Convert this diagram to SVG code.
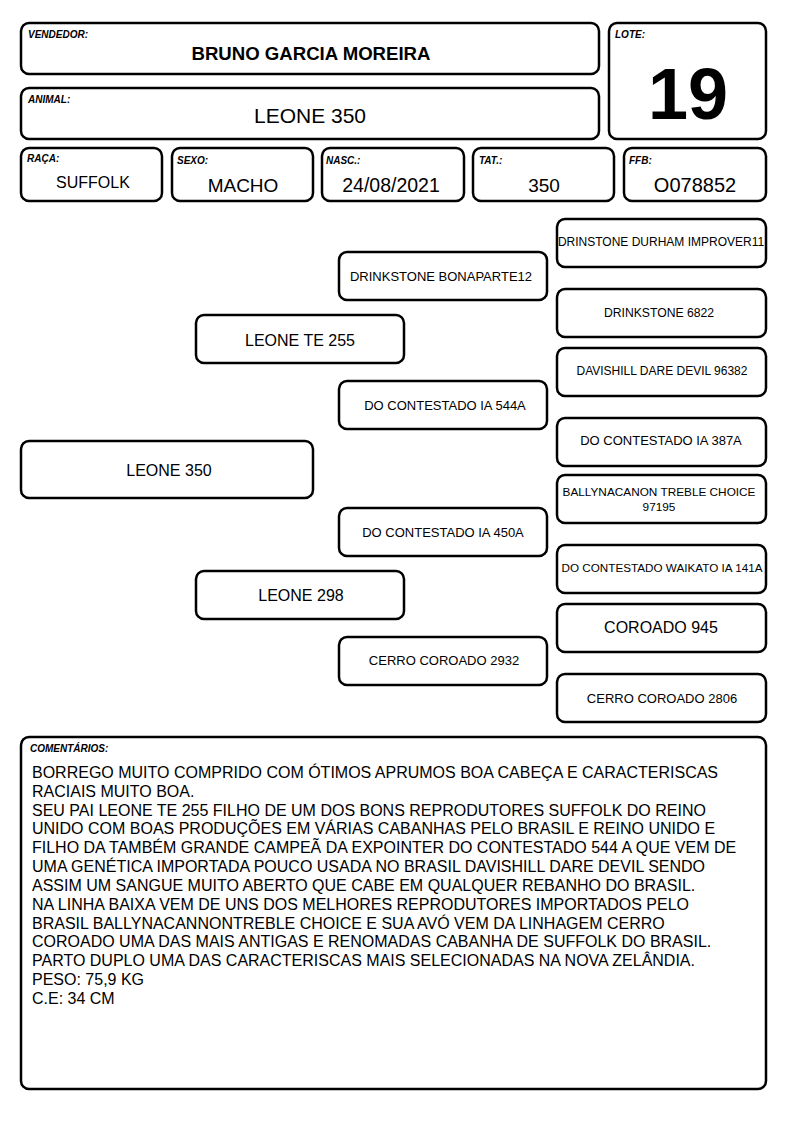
<svg xmlns="http://www.w3.org/2000/svg" width="794" height="1123" viewBox="0 0 794 1123">
<style>
.b{fill:#fff;stroke:#000;stroke-width:2.5}
text{font-family:"Liberation Sans",Arial,sans-serif;fill:#000}
.l{font-size:10px;font-weight:bold;font-style:italic}
.c{text-anchor:middle}
.v{font-size:19px}
.p1{font-size:16px}
.p2{font-size:12px}
.p3{font-size:13px}
.cm{font-size:16px}
</style>
<rect width="794" height="1123" fill="#fff"/>
<g id="vendedor"><rect class="b" x="21" y="23" width="578" height="51" rx="8"/><text class="l" x="28" y="38">VENDEDOR:</text><text class="c" x="311" y="60" font-size="18.6" font-weight="bold">BRUNO GARCIA MOREIRA</text></g>
<g id="animal"><rect class="b" x="21" y="88" width="578" height="51" rx="8"/><text class="l" x="28" y="103">ANIMAL:</text><text class="c" x="310" y="123" font-size="21">LEONE 350</text></g>
<g id="lote"><rect class="b" x="609" y="23" width="157" height="116" rx="8"/><text class="l" x="615" y="38">LOTE:</text><text class="c" x="688" y="119" font-size="72" font-weight="bold">19</text></g>
<g id="raca"><rect class="b" x="21" y="148" width="141" height="53" rx="8"/><text class="l" x="27" y="162">RAÇA:</text><text class="c p1" x="93" y="188">SUFFOLK</text></g>
<g id="sexo"><rect class="b" x="172" y="148" width="141" height="53" rx="8"/><text class="l" x="177" y="164">SEXO:</text><text class="c v" x="243" y="192">MACHO</text></g>
<g id="nasc"><rect class="b" x="322" y="148" width="142" height="53" rx="8"/><text class="l" x="326" y="164">NASC.:</text><text class="c" x="391" y="192" font-size="19.5">24/08/2021</text></g>
<g id="tat"><rect class="b" x="473" y="148" width="141" height="53" rx="8"/><text class="l" x="479" y="164">TAT.:</text><text class="c v" x="544" y="192">350</text></g>
<g id="ffb"><rect class="b" x="624" y="148" width="142" height="53" rx="8"/><text class="l" x="629" y="164">FFB:</text><text class="c" x="695" y="192" font-size="20">O078852</text></g>

<g id="connectors"></g>

<g id="n-leone350"><rect class="b" x="21" y="441" width="292" height="57" rx="8"/><text class="c p1" x="169" y="476">LEONE 350</text></g>
<g id="n-leonete255"><rect class="b" x="196" y="315" width="208" height="48" rx="8"/><text class="c p1" x="300" y="346">LEONE TE 255</text></g>
<g id="n-leone298"><rect class="b" x="196" y="571" width="208" height="48" rx="8"/><text class="c p1" x="301" y="601">LEONE 298</text></g>
<g id="n-bonaparte"><rect class="b" x="339" y="252" width="208" height="48" rx="8"/><text class="c p3" x="441" y="281">DRINKSTONE BONAPARTE12</text></g>
<g id="n-544a"><rect class="b" x="339" y="381" width="208" height="48" rx="8"/><text class="c p3" x="445" y="410">DO CONTESTADO IA 544A</text></g>
<g id="n-450a"><rect class="b" x="339" y="508" width="208" height="48" rx="8"/><text class="c p3" x="443" y="537">DO CONTESTADO IA 450A</text></g>
<g id="n-2932"><rect class="b" x="339" y="637" width="208" height="48" rx="8"/><text class="c p3" x="444" y="665">CERRO COROADO 2932</text></g>
<g id="n-durham"><rect class="b" x="557" y="219" width="209" height="48" rx="8"/><text class="c p2" x="661" y="246">DRINSTONE DURHAM IMPROVER11</text></g>
<g id="n-6822"><rect class="b" x="557" y="289" width="209" height="48" rx="8"/><text class="c" x="659" y="317" font-size="12.2">DRINKSTONE 6822</text></g>
<g id="n-davishill"><rect class="b" x="557" y="348" width="209" height="48" rx="8"/><text class="c p2" x="662" y="375">DAVISHILL DARE DEVIL 96382</text></g>
<g id="n-387a"><rect class="b" x="557" y="418" width="209" height="48" rx="8"/><text class="c p3" x="661" y="445">DO CONTESTADO IA 387A</text></g>
<g id="n-ballynacanon"><rect class="b" x="557" y="475" width="209" height="48" rx="8"/><text class="c" x="659" y="496" font-size="11.8">BALLYNACANON TREBLE CHOICE</text><text class="c" x="659" y="511" font-size="11.8">97195</text></g>
<g id="n-waikato"><rect class="b" x="557" y="545" width="209" height="48" rx="8"/><text class="c" x="662" y="572" font-size="11.7">DO CONTESTADO WAIKATO IA 141A</text></g>
<g id="n-945"><rect class="b" x="557" y="604" width="209" height="48" rx="8"/><text class="c p1" x="661" y="633">COROADO 945</text></g>
<g id="n-2806"><rect class="b" x="557" y="674" width="209" height="48" rx="8"/><text class="c p3" x="662" y="703">CERRO COROADO 2806</text></g>

<g id="comentarios"><rect class="b" x="21" y="737" width="745" height="352" rx="8"/><text class="l" x="30" y="752">COMENTÁRIOS:</text>
<text class="cm" x="32" y="778">BORREGO MUITO COMPRIDO COM ÓTIMOS APRUMOS BOA CABEÇA E CARACTERISCAS</text>
<text class="cm" x="32" y="797">RACIAIS MUITO BOA.</text>
<text class="cm" x="32" y="816">SEU PAI LEONE TE 255 FILHO DE UM DOS BONS REPRODUTORES SUFFOLK DO REINO</text>
<text class="cm" x="32" y="834">UNIDO COM BOAS PRODUÇÕES EM VÁRIAS CABANHAS PELO BRASIL E REINO UNIDO E</text>
<text class="cm" x="32" y="853">FILHO DA TAMBÉM GRANDE CAMPEÃ DA EXPOINTER DO CONTESTADO 544 A QUE VEM DE</text>
<text class="cm" x="32" y="872">UMA GENÉTICA IMPORTADA POUCO USADA NO BRASIL DAVISHILL DARE DEVIL SENDO</text>
<text class="cm" x="32" y="891">ASSIM UM SANGUE MUITO ABERTO QUE CABE EM QUALQUER REBANHO DO BRASIL.</text>
<text class="cm" x="32" y="910">NA LINHA BAIXA VEM DE UNS DOS MELHORES REPRODUTORES IMPORTADOS PELO</text>
<text class="cm" x="32" y="929">BRASIL BALLYNACANNONTREBLE CHOICE E SUA AVÓ VEM DA LINHAGEM CERRO</text>
<text class="cm" x="32" y="947">COROADO UMA DAS MAIS ANTIGAS E RENOMADAS CABANHA DE SUFFOLK DO BRASIL.</text>
<text class="cm" x="32" y="966">PARTO DUPLO UMA DAS CARACTERISCAS MAIS SELECIONADAS NA NOVA ZELÂNDIA.</text>
<text class="cm" x="32" y="985">PESO: 75,9 KG</text>
<text class="cm" x="32" y="1004">C.E: 34 CM</text>
</g>
</svg>
